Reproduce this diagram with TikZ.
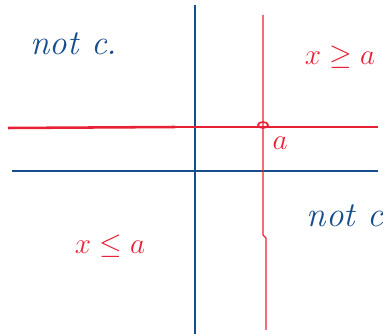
\documentclass[tikz,border=0pt]{standalone}
\usepackage{amsmath,amssymb}
\usepackage{tikz}
\definecolor{penblue}{RGB}{22,78,140}
\definecolor{penred}{RGB}{232,32,52}

\begin{document}
\begin{tikzpicture}[x=0.025cm, y=-0.025cm, every node/.style={font=\huge}]
	\clip (0,0) rectangle (390,334);
	\draw[penblue, line width=1.1pt] (195,5) -- (195,334);
	\draw[penblue, line width=1.1pt] (12,171) -- (378,171);
	\draw[penred, line width=1.8pt] (8,128) -- (175,127);
	\draw[penred, line width=1pt] (175,127) -- (378,127);
	\draw[penred, line width=1pt] (263,15) -- (263,235) -- (266,238) -- (266,330);
	\draw[penred, line width=1.2pt] (263,125) ellipse (5 and 3);
	\node[penblue, font=\Huge\itshape] (notcleft) at (74,44) {not c.};
	\node[penred] (xgeqa) at (340,57) {$x\geq a$};
	\node[penred] (alabel) at (280,143) {$a$};
	\node[penblue, font=\Huge\itshape, anchor=west] (notcright) at (302,216) {not c};
	\node[penred] (xleqa) at (110,246) {$x\leq a$};
\end{tikzpicture}
\end{document}
